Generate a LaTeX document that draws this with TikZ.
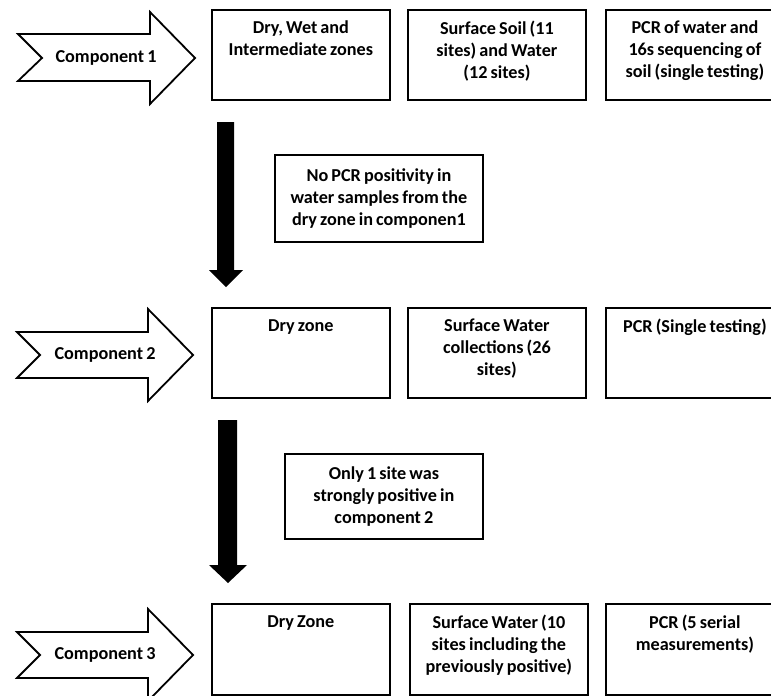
\documentclass[tikz,border=0pt]{standalone}
\usepackage{fontspec}
\setmainfont{Carlito}[WordSpace=0.75]
\begin{document}
\begin{tikzpicture}[x=1pt,y=-1pt,
  box/.style={draw, line width=1.8pt, minimum width=178pt, minimum height=90pt, inner sep=0pt, anchor=north west},
  note/.style={draw, line width=1.8pt, inner sep=0pt, anchor=north west},
  txt/.style={font={\fontsize{18.2}{21.7}\selectfont\bfseries}, align=center, inner sep=0pt},
  chev/.style={draw, line width=1.8pt, fill=white, line join=miter},
  blockarrow/.style={fill=black, draw=none}]
\useasboundingbox (0,0) rectangle (771,696);

% Row 1
\draw[chev] (18,34) -- (150,34) -- (150,12) -- (195,58) -- (150,104) -- (150,81) -- (18,81) -- (42,58) -- cycle;
\node[txt] (c1) at (106,58) {Component 1};
\node[box] (b11) at (211,9) {};
\node[box] (b12) at (407,9) {};
\node[box] (b13) at (605,9) {};
\node[txt, anchor=north] (t11) at ([yshift=-12pt]b11.north) {Dry, Wet and\\Intermediate zones};
\node[txt, anchor=north] (t12) at ([yshift=-12pt]b12.north) {Surface Soil (11\\sites) and Water\\(12 sites)};
\node[txt, anchor=north] (t13) at ([yshift=-12pt]b13.north) {PCR of water and\\16s sequencing of\\soil (single testing)};

% Arrow 1 and note 1
\fill[blockarrow] (217,122) -- (234,122) -- (234,270) -- (243,270) -- (226,287) -- (209,270) -- (217,270) -- cycle;
\node[note, minimum width=208pt, minimum height=87pt] (n1) at (274,154) {};
\node[txt] (tn1) at (n1.center) {No PCR positivity in\\water samples from the\\dry zone in componen1};

% Row 2
\draw[chev] (17,332) -- (148,332) -- (148,309) -- (193,355) -- (148,401) -- (148,378) -- (17,378) -- (40,355) -- cycle;
\node[txt] (c2) at (105,355) {Component 2};
\node[box] (b21) at (211,307) {};
\node[box] (b22) at (407,307) {};
\node[box] (b23) at (605,307) {};
\node[txt, anchor=north] (t21) at ([yshift=-12pt]b21.north) {Dry zone};
\node[txt, anchor=north] (t22) at ([yshift=-12pt]b22.north) {Surface Water\\collections (26\\sites)};
\node[txt, anchor=north] (t23) at ([yshift=-12pt]b23.north) {PCR (Single testing)};

% Arrow 2 and note 2
\fill[blockarrow] (218,420) -- (237,420) -- (237,565) -- (247,565) -- (228,583) -- (209,565) -- (218,565) -- cycle;
\node[note, minimum width=198pt, minimum height=85pt] (n2) at (284,453) {};
\node[txt] (tn2) at (n2.center) {Only 1 site was\\strongly positive in\\component 2};

% Row 3
\draw[chev] (17,632) -- (148,632) -- (148,609) -- (193,655) -- (148,701) -- (148,678) -- (17,678) -- (40,655) -- cycle;
\node[txt] (c3) at (105,655) {Component 3};
\node[box, minimum height=91pt] (b31) at (211,603) {};
\node[box, minimum height=91pt] (b32) at (409,603) {};
\node[box, minimum height=91pt] (b33) at (605,603) {};
\node[txt, anchor=north] (t31) at ([yshift=-12pt]b31.north) {Dry Zone};
\node[txt, anchor=north] (t32) at ([yshift=-12pt]b32.north) {Surface Water (10\\sites including the\\previously positive)};
\node[txt, anchor=north] (t33) at ([yshift=-12pt]b33.north) {PCR (5 serial\\measurements)};
\end{tikzpicture}
\end{document}
